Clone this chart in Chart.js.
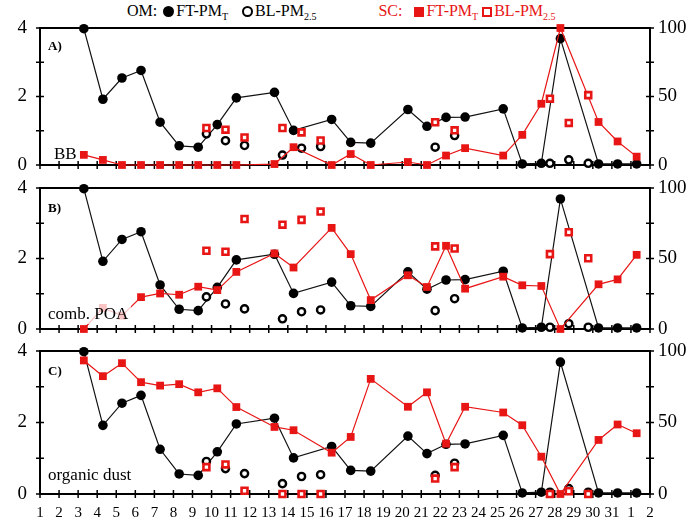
<!DOCTYPE html>
<html>
<head>
<meta charset="utf-8">
<script src="https://cdn.jsdelivr.net/npm/chart.js@4"></script>
<style>
    body { margin: 0; background: #fff; width: 700px; height: 525px; overflow: hidden; position: relative; font-family: 'Liberation Serif', serif; }
    canvas { position: absolute; left: 0; }
    .lab { position: absolute; font-size: 17px; color: #000; line-height: 1; }
    .tag { position: absolute; font-size: 13px; font-weight: bold; line-height: 1; }
    .box { background: rgba(255,255,255,0.75); padding: 2px 3px; }
    #legend { position: absolute; top: 2px; left: 127px; font-size: 16px; white-space: nowrap; }
    #legend sub { font-size: 10px; }
    .sym { display: inline-block; vertical-align: -1px; box-sizing: border-box; margin: 0 2px 0 6px; }
    .dot { width: 11px; height: 11px; border-radius: 50%; background: #000; }
    .ring { width: 11px; height: 11px; border-radius: 50%; border: 2.5px solid #000; }
    .sq { width: 10px; height: 10px; background: #e81515; }
    .hsq { width: 10px; height: 10px; border: 2.5px solid #e81515; }
    .red { color: #e81515; }
</style>
</head>
<body>
<div id="legend">
    <span>OM:</span><span class="sym dot"></span>FT-PM<sub>T</sub><span class="sym ring" style="margin-left:14px"></span>BL-PM<sub>2.5</sub>
    <span class="red" style="margin-left:58px">SC:</span><span class="sym sq" style="margin-left:12px"></span><span class="red">FT-PM<sub>T</sub></span><span class="sym hsq" style="margin-left:4px"></span><span class="red">BL-PM<sub>2.5</sub></span>
</div>
<canvas id="chartA" width="700" height="155" style="top:20px"></canvas>
<canvas id="chartB" width="700" height="159" style="top:180px"></canvas>
<canvas id="chartC" width="700" height="181" style="top:343px"></canvas>
<div class="tag" style="left:48px; top:39px">A)</div>
<div class="tag" style="left:48px; top:201px">B)</div>
<div class="tag" style="left:48px; top:364px">C)</div>
<div class="lab" style="left:54px; top:145px">BB</div>
<div class="lab box" style="left:45px; top:303px">comb. POA</div>
<div class="lab box" style="left:45px; top:464px">organic dust</div>
<script>
// 측정일 (x 위치: 1월 일자, 32 = 2월 1일)
const ftDays = [3.3, 4.3, 5.3, 6.3, 7.3, 8.3, 9.3, 10.3, 11.3, 13.3, 14.3, 16.3, 17.3, 18.35, 20.3, 21.3, 22.3, 23.3, 25.3, 26.3, 27.3, 28.3, 30.3, 31.3, 32.3];
const blDays = [9.73, 10.73, 11.73, 13.72, 14.72, 15.72, 21.73, 22.75, 27.75, 28.74, 29.76];

// OM (왼쪽 축)
const omFT = [3.98, 1.92, 2.54, 2.76, 1.25, 0.56, 0.52, 1.18, 1.96, 2.12, 1.01, 1.33, 0.66, 0.64, 1.62, 1.13, 1.39, 1.40, 1.64, 0.03, 0.05, 3.69, 0.03, 0.03, 0.03];
const omBL = [0.91, 0.71, 0.57, 0.29, 0.49, 0.54, 0.52, 0.86, 0.05, 0.15, 0.05];

// SC (오른쪽 축, %)
const bbFT = [7.4, 3.7, 0, 0, 0, 0, 0, 0, 0, 0.7, 13, 0, 8, 0, 2.2, 0, 6.9, 12.3, 6.9, 22, 44.7, 100, 31.4, 17.2, 6.1];
const bbBL = [27, 25.8, 20.1, 27, 23.8, 17.9, 31.2, 25.3, 48.4, 30.7, 51];
const poaFT = [0, 15, 9.5, 22.6, 25.2, 24.3, 30, 27.6, 40.5, 53.6, 43.6, 71.7, 53.1, 20.5, 38.1, 29.8, 59, 28.6, 37.1, 31, 30.5, 0, 31.7, 35.2, 52.6];
const poaBL = [55.5, 54.8, 78, 74, 77.4, 83.3, 58.6, 57.1, 53.1, 68.6, 50.2];
const dustFT = [93.4, 82.4, 91.5, 78.2, 75.8, 76.8, 71.1, 73.9, 60.8, 46.9, 44.6, 28.9, 39.9, 80.5, 61, 71.1, 35.2, 61, 57, 48.1, 26.1, 0, 37.8, 48.6, 42.5];
const dustBL = [18.8, 20.7, 2.3, 0, 0, 0, 10.8, 18.8, 0, 1.9, 0];

// 축 눈금
const omTicks = [0, 2, 4];
const scTicks = [0, 50, 100];

const RED = '#e81515';

function pts(xs, ys) {
    return xs.map((x, i) => ({ x: x, y: ys[i] }));
}

// 라벨 때문에 생기는 여백 제거
function fixWidth(w) {
    return s => { s.width = w; s.paddingTop = 0; s.paddingBottom = 0; };
}

// 축 테두리 + 안팎으로 걸친 눈금
const framePlugin = {
    id: 'frame',
    beforeDatasetsDraw(chart) {
        const { ctx, chartArea: a, scales } = chart;
        ctx.save();
        ctx.strokeStyle = '#000';
        ctx.lineWidth = 2;
        ctx.strokeRect(a.left, a.top, a.right - a.left, a.bottom - a.top);
        ctx.lineWidth = 1.5;
        ctx.beginPath();
        scales.x.ticks.forEach(t => {
            const p = scales.x.getPixelForValue(t.value);
            ctx.moveTo(p, a.bottom - 4);
            ctx.lineTo(p, a.bottom + 4);
        });
        scales.y.ticks.forEach(t => {
            const p = scales.y.getPixelForValue(t.value);
            ctx.moveTo(a.left - 4, p);
            ctx.lineTo(a.left + 4, p);
        });
        scales.y1.ticks.forEach(t => {
            const p = scales.y1.getPixelForValue(t.value);
            ctx.moveTo(a.right - 4, p);
            ctx.lineTo(a.right + 4, p);
        });
        ctx.stroke();
        ctx.restore();
    }
};

function makePanel(id, scFT, scBL, showX) {
    const ctx = document.getElementById(id).getContext('2d');
    return new Chart(ctx, {
        type: 'line',
        data: {
            datasets: [{
                label: 'SC FT-PMT',
                data: pts(ftDays, scFT),
                yAxisID: 'y1',
                borderColor: RED,
                borderWidth: 1.2,
                pointStyle: 'rect',
                pointRadius: 5.5,
                pointBackgroundColor: RED,
                pointBorderWidth: 0,
                order: 1
            }, {
                label: 'SC BL-PM2.5',
                data: pts(blDays, scBL),
                yAxisID: 'y1',
                showLine: false,
                pointStyle: 'rect',
                pointRadius: 4.2,
                pointBackgroundColor: '#fff',
                pointBorderColor: RED,
                pointBorderWidth: 2.6,
                order: 0
            }, {
                label: 'OM FT-PMT',
                data: pts(ftDays, omFT),
                yAxisID: 'y',
                borderColor: '#111',
                borderWidth: 1.2,
                pointRadius: 4.8,
                pointBackgroundColor: '#000',
                pointBorderWidth: 0,
                order: 3
            }, {
                label: 'OM BL-PM2.5',
                data: pts(blDays, omBL),
                yAxisID: 'y',
                showLine: false,
                pointRadius: 3.6,
                pointBackgroundColor: '#fff',
                pointBorderColor: '#000',
                pointBorderWidth: 2.4,
                order: 2
            }]
        },
        options: {
            responsive: false,
            animation: false,
            clip: false,
            layout: { padding: { top: 8, left: 0, right: 0, bottom: 0 } },
            plugins: { legend: { display: false }, tooltip: { enabled: false } },
            scales: {
                x: {
                    type: 'linear',
                    min: 1,
                    max: 33,
                    grid: { display: false, drawTicks: false },
                    border: { display: false },
                    afterFit: s => { s.height = showX ? 30 : 10; s.paddingLeft = 0; s.paddingRight = 0; },
                    ticks: {
                        display: showX,
                        stepSize: 1,
                        autoSkip: false,
                        maxRotation: 0,
                        padding: 10,
                        color: '#000',
                        font: { family: 'Liberation Serif', size: 15 },
                        callback: v => (v > 31 ? v - 31 : v)
                    }
                },
                y: {
                    position: 'left',
                    min: 0,
                    max: 4,
                    grid: { display: false, drawTicks: false },
                    border: { display: false },
                    afterFit: fixWidth(40),
                    ticks: {
                        stepSize: 1,
                        padding: 13,
                        color: '#000',
                        font: { family: 'Liberation Serif', size: 19 },
                        callback: v => (omTicks.includes(v) ? v : '')
                    }
                },
                y1: {
                    position: 'right',
                    min: 0,
                    max: 100,
                    grid: { display: false, drawTicks: false },
                    border: { display: false },
                    afterFit: fixWidth(50),
                    ticks: {
                        stepSize: 25,
                        padding: 8,
                        color: '#000',
                        font: { family: 'Liberation Serif', size: 19 },
                        callback: v => (scTicks.includes(v) ? v : '')
                    }
                }
            }
        },
        plugins: [framePlugin]
    });
}

makePanel('chartA', bbFT, bbBL, false);
makePanel('chartB', poaFT, poaBL, false);
makePanel('chartC', dustFT, dustBL, true);
</script>
</body>
</html>
